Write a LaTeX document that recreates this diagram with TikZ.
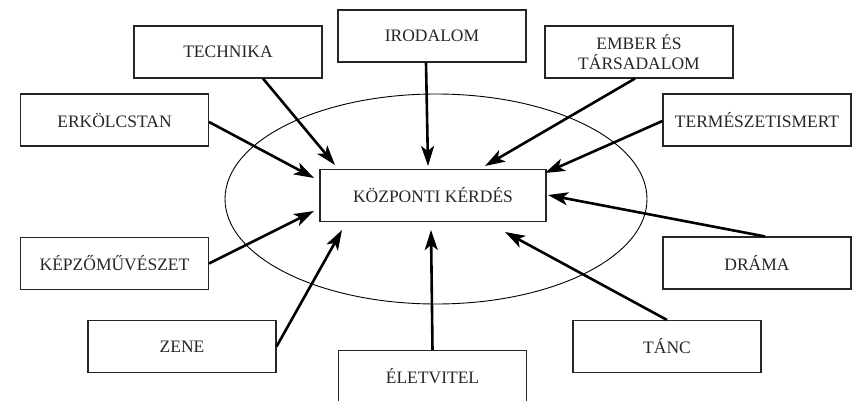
\documentclass[tikz,border=0pt]{standalone}
\usepackage{fontspec}
\setmainfont{Liberation Serif}
\usetikzlibrary{arrows.meta}
\begin{document}
\begin{tikzpicture}[x=1pt,y=-1pt,
  topic/.style={draw=black!85,line width=1.1pt,minimum width=188pt,minimum height=52pt,inner sep=0pt,align=center,font=\fontsize{17.5}{20}\selectfont,text=black!85},
  flow/.style={line width=2.6pt,-{Stealth[length=20pt,width=13pt,inset=5pt]}}]
\useasboundingbox (0,0) rectangle (861,401);
\draw[line width=0.9pt] (436,199) ellipse [x radius=211pt,y radius=105pt];
\node[topic,minimum width=226pt] (kozp) at (433,195.5) {KÖZPONTI KÉRDÉS};
\node[topic] (tech) at (228,52) {TECHNIKA};
\node[topic] (erk) at (114.5,120) {ERKÖLCSTAN};
\node[topic] (irod) at (432,36) {IRODALOM};
\node[topic] (ember) at (639,52) {EMBER ÉS\\TÁRSADALOM};
\node[topic] (term) at (757,120) {TERMÉSZETISMERT};
\node[topic] (kepz) at (114.5,263.5) {KÉPZŐMŰVÉSZET};
\node[topic] (zene) at (182,346.5) {ZENE};
\node[topic] (elet) at (432.5,376.5) {ÉLETVITEL};
\node[topic] (drama) at (757,263) {DRÁMA};
\node[topic] (tanc) at (667,346.5) {TÁNC};
\coordinate (ttech) at (335,165);
\coordinate (terk) at (314,178);
\coordinate (tirod) at (428,166);
\coordinate (tember) at (485,166);
\coordinate (tterm) at (545,173);
\coordinate (tdrama) at (548,195);
\coordinate (tkepz) at (314,211);
\coordinate (tzene) at (342,230);
\coordinate (telet) at (431,230);
\coordinate (ttanc) at (505,232);
\draw[flow] ([xshift=35pt]tech.south) -- (ttech);
\draw[flow] ([yshift=-2pt]erk.east) -- (terk);
\draw[flow] ([xshift=-6pt]irod.south) -- (tirod);
\draw[flow] ([xshift=-4pt]ember.south) -- (tember);
\draw[flow] ([yshift=-1pt]term.west) -- (tterm);
\draw[flow] ([xshift=8pt]drama.north) -- (tdrama);
\draw[flow] (tanc.north) -- (ttanc);
\draw[flow] (elet.north) -- (telet);
\draw[flow] (zene.east) -- (tzene);
\draw[flow] (kepz.east) -- (tkepz);
\end{tikzpicture}
\end{document}
